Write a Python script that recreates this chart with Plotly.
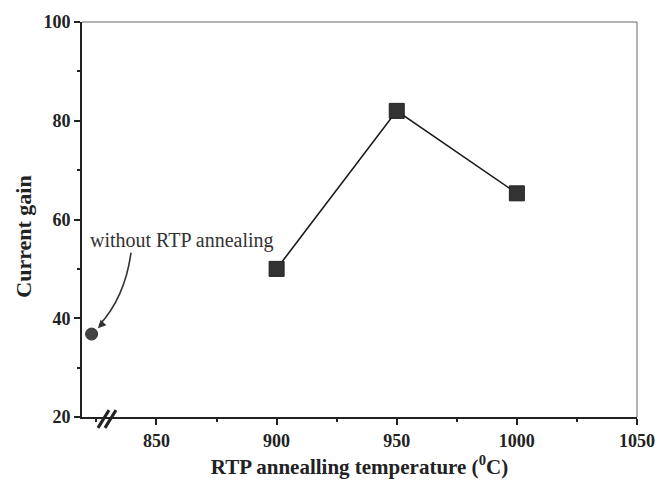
import plotly.graph_objects as go

# Data
temps = [900, 950, 1000]
gains = [50, 82, 65.3]
no_anneal_x = [823]
no_anneal_y = [36.8]
x_ticks = [850, 900, 950, 1000, 1050]
y_ticks = [20, 40, 60, 80, 100]

SERIF = "Liberation Serif, Times New Roman, serif"
INK = "#222222"

fig = go.Figure()
fig.add_trace(go.Scatter(
    x=temps, y=gains, mode="lines+markers",
    line=dict(color="#1a1a1a", width=1.6),
    marker=dict(symbol="square", size=15, color="#333333",
                line=dict(color="#222222", width=1)),
    showlegend=False, cliponaxis=False))
fig.add_trace(go.Scatter(
    x=no_anneal_x, y=no_anneal_y, mode="markers",
    marker=dict(symbol="circle", size=12, color="#444444",
                line=dict(color="#333333", width=1)),
    showlegend=False, cliponaxis=False))

# curved arrow (data coords)
fig.add_shape(type="path", xref="x", yref="y",
              path="M 839.4 53.3 Q 836.9 44.3 826.2 38.6",
              line=dict(color="#333333", width=1.6))
fig.add_annotation(x=825.6, y=38.0, xref="x", yref="y", ax=6, ay=-6,
                   showarrow=True, arrowhead=2, arrowsize=1, arrowwidth=1.6,
                   arrowcolor="#333333", text=" ", standoff=0)
fig.add_annotation(x=821.3, y=55.7, xref="x", yref="y", xanchor="left",
                   yanchor="middle", showarrow=False,
                   text="without RTP annealing",
                   font=dict(family=SERIF, size=20, color="#333333"))

# axis break marks
def px(xp):
    return (xp - 82) / 555.0
def py(yp):
    return 1 - (yp - 16) / 401.0
for dx in (0, 7):
    fig.add_shape(type="line", xref="paper", yref="paper",
                  x0=px(98 + dx), y0=py(428), x1=px(109 + dx), y1=py(410),
                  line=dict(color=INK, width=3))

# top and right thin frame lines
fig.add_shape(type="line", xref="paper", yref="paper", x0=0, y0=1, x1=1, y1=1,
              line=dict(color="#666666", width=1))
fig.add_shape(type="line", xref="paper", yref="paper", x0=1, y0=0, x1=1, y1=1,
              line=dict(color="#666666", width=1))

# y-axis title placed like the reference (slightly below centre)
fig.add_annotation(x=px(24), y=py(234), xref="paper", yref="paper",
                   text="<b>Current gain</b>", textangle=-90, showarrow=False,
                   xanchor="center", yanchor="middle",
                   font=dict(family=SERIF, size=22, color=INK))

fig.update_layout(
    width=668, height=493,
    margin=dict(l=82, r=31, t=16, b=76),
    paper_bgcolor="white", plot_bgcolor="white",
    font=dict(family=SERIF, color=INK),
    xaxis=dict(range=[819, 1050], tickvals=x_ticks,
               ticktext=["<b>%d</b>" % v for v in x_ticks],
               ticks="outside", ticklen=6, tickwidth=1.5, tickcolor=INK,
               showline=True, linecolor=INK, linewidth=2,
               showgrid=False, zeroline=False,
               tickfont=dict(family=SERIF, size=18, color=INK),
               minor=dict(dtick=25, tick0=850, ticks="outside", ticklen=3,
                          tickcolor=INK, showgrid=False),
               title=dict(text="<b>RTP annealling temperature (<sup>0</sup>C)</b>",
                          font=dict(family=SERIF, size=21, color=INK),
                          standoff=10)),
    yaxis=dict(range=[20, 100], tickvals=y_ticks,
               ticktext=["<b>%d</b>" % v for v in y_ticks],
               ticks="outside", ticklen=6, tickwidth=1.5, tickcolor=INK,
               showline=True, linecolor=INK, linewidth=2,
               showgrid=False, zeroline=False,
               tickfont=dict(family=SERIF, size=18, color=INK),
               minor=dict(dtick=10, tick0=20, ticks="outside", ticklen=3,
                          tickcolor=INK, showgrid=False)),
)

fig.write_html("out.html")
